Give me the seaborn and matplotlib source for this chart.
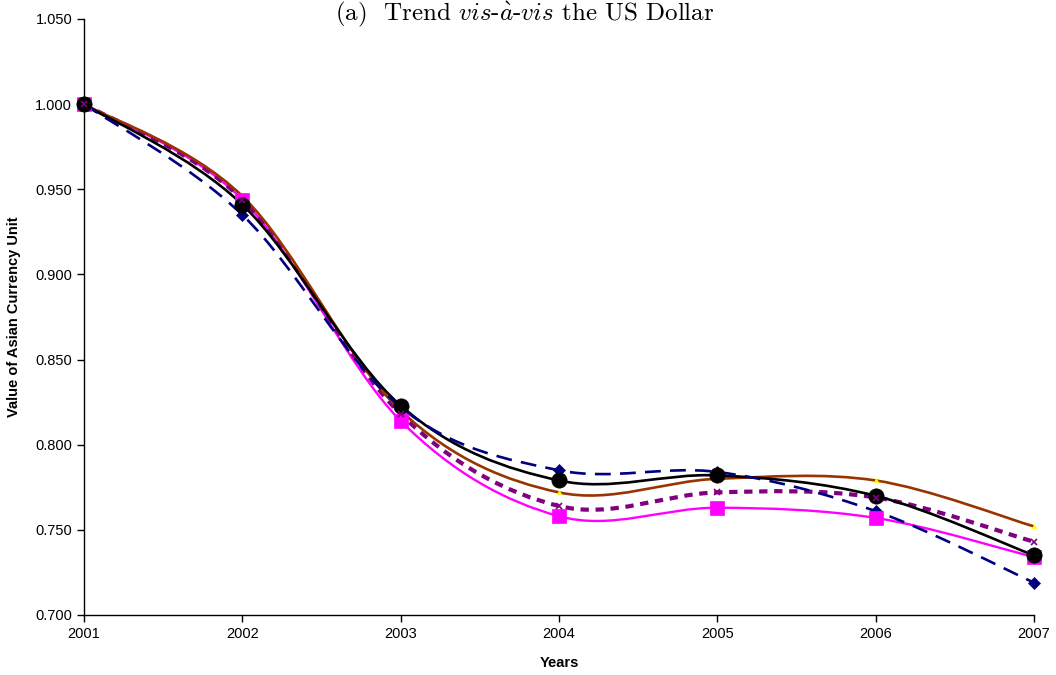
import numpy as np
import pandas as pd
import seaborn as sns
import matplotlib
matplotlib.use("Agg")
import matplotlib.pyplot as plt
from matplotlib.path import Path
from matplotlib.patches import PathPatch
from matplotlib.ticker import FormatStrFormatter

# Werte
years = [2001, 2002, 2003, 2004, 2005, 2006, 2007]
navy_vals = [1.000, 0.935, 0.822, 0.785, 0.784, 0.761, 0.719]
black_vals = [1.000, 0.941, 0.823, 0.779, 0.782, 0.770, 0.735]
brown_vals = [1.000, 0.946, 0.820, 0.772, 0.780, 0.779, 0.752]
purple_vals = [1.000, 0.944, 0.818, 0.764, 0.772, 0.769, 0.743]
magenta_vals = [1.000, 0.944, 0.814, 0.758, 0.763, 0.757, 0.734]

series_names = ["Series 1", "Series 2", "Series 3", "Series 4", "Series 5"]

df = pd.DataFrame({
    "Years": years * 5,
    "Value": magenta_vals + purple_vals + brown_vals + black_vals + navy_vals,
    "Series": np.repeat(["Series 5", "Series 4", "Series 3", "Series 2", "Series 1"], len(years)),
})

# Stil je Reihe: Farbe, Linie, Breite, Marker, Markergroesse, Markerfarbe, Ebene der Marker
styles = {
    "Series 5": dict(color="#FF00FF", ls="-", lw=1.7, marker="s", ms=10, mfc="#FF00FF", z=3.1),
    "Series 4": dict(color="#800080", ls=(0, (2.0, 1.6)), lw=3.0, marker="x", ms=4, mfc="#800080", z=3.3),
    "Series 3": dict(color="#993300", ls="-", lw=1.9, marker="^", ms=3, mfc="#FFFF00", z=3.05),
    "Series 2": dict(color="#000000", ls="-", lw=1.9, marker="o", ms=11, mfc="#000000", z=3.2),
    "Series 1": dict(color="#000080", ls=(0, (6, 3.5)), lw=1.9, marker="D", ms=6, mfc="#000080", z=3.0),
}

sns.set_style("ticks")
plt.rcParams["font.family"] = ["Liberation Sans", "DejaVu Sans"]
plt.rcParams["mathtext.fontset"] = "cm"
plt.rcParams["axes.unicode_minus"] = False
plt.rcParams["text.color"] = "black"
plt.rcParams["axes.labelcolor"] = "black"
plt.rcParams["xtick.color"] = "black"
plt.rcParams["ytick.color"] = "black"

fig = plt.figure(figsize=(10.56, 6.75), dpi=100)
ax = fig.add_axes([84 / 1056, 1 - 615 / 675, (1034 - 84) / 1056, (615 - 19) / 675])


def smooth_path(x, y):
    # geglaettete Linie wie in Excel (Bezier durch die Punkte)
    p = np.column_stack([x, y]).astype(float)
    n = len(p)
    verts = [p[0]]
    codes = [Path.MOVETO]
    for i in range(n - 1):
        p0 = p[max(i - 1, 0)]
        p1 = p[i]
        p2 = p[i + 1]
        p3 = p[min(i + 2, n - 1)]
        c1 = p1 + (p2 - p0) / 6.0
        c2 = p2 - (p3 - p1) / 6.0
        verts += [c1, c2, p2]
        codes += [Path.CURVE4] * 3
    return Path(verts, codes)


for name in ["Series 5", "Series 4", "Series 3", "Series 2", "Series 1"]:
    st = styles[name]
    sub = df[df["Series"] == name]
    patch = PathPatch(smooth_path(sub["Years"], sub["Value"]), fill=False,
                      edgecolor=st["color"], lw=st["lw"], linestyle=st["ls"],
                      capstyle="butt", zorder=2)
    ax.add_patch(patch)
    sns.lineplot(data=sub, x="Years", y="Value", ax=ax, lw=0, marker=st["marker"],
                 markersize=st["ms"], color=st["mfc"], markeredgecolor=st["mfc"],
                 markeredgewidth=1.2 if st["marker"] == "x" else 0.5,
                 clip_on=False, zorder=st["z"], legend=False)

ax.set_xlim(2001, 2007)
ax.set_ylim(0.70, 1.05)
ax.set_xticks(years)
ax.set_yticks(np.arange(0.70, 1.0501, 0.05))
ax.yaxis.set_major_formatter(FormatStrFormatter("%.3f"))
ax.tick_params(axis="both", labelsize=10.5, length=5, width=1, color="black", direction="out")
ax.set_xlabel("Years", fontsize=10.5, fontweight="bold", labelpad=11)
ax.set_ylabel("Value of Asian Currency Unit", fontsize=10.5, fontweight="bold", labelpad=10)
sns.despine(ax=ax)
for s in ["left", "bottom"]:
    ax.spines[s].set_color("black")
    ax.spines[s].set_linewidth(1)

fig.text(0.497, 1 - 20 / 675, r"(a)  Trend $\mathit{vis}$-$\grave{\mathit{a}}$-$\mathit{vis}$ the US Dollar",
         ha="center", va="baseline", fontsize=18, family="cmr10")

fig.savefig("out.png", dpi=100)
